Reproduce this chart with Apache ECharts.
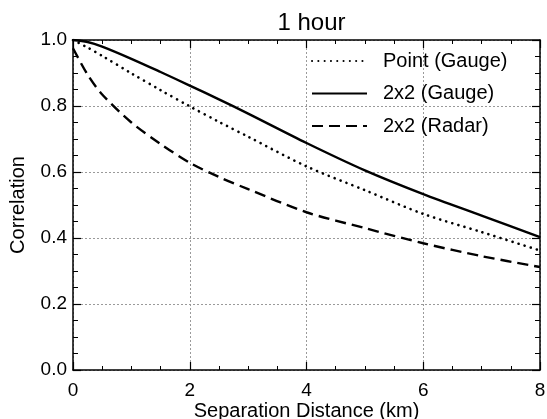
<!DOCTYPE html>
<html>
<head>
<meta charset="utf-8">
<script src="https://cdn.jsdelivr.net/npm/echarts@6/dist/echarts.min.js"></script>
<style>
html,body{margin:0;padding:0;background:#fff;}
#chart{width:547px;height:419px;}
</style>
</head>
<body>
<div id="chart"></div>
<script>
const distanceKm = [0, 0.25, 0.5, 1, 1.5, 2, 2.5, 3, 4, 5, 6, 7, 8];
const pointGauge = [1.0, 0.977, 0.952, 0.899, 0.848, 0.799, 0.752, 0.707, 0.617, 0.545, 0.473, 0.418, 0.362];
const gauge2x2   = [1.0, 0.994, 0.98, 0.943, 0.903, 0.862, 0.82, 0.777, 0.688, 0.605, 0.533, 0.468, 0.403];
const radar2x2   = [0.975, 0.895, 0.835, 0.75, 0.685, 0.628, 0.585, 0.548, 0.478, 0.43, 0.384, 0.345, 0.312];
const seriesNames = ['Point (Gauge)', '2x2 (Gauge)', '2x2 (Radar)'];
const titleText = '1 hour';
const xName = 'Separation Distance (km)';
const yName = 'Correlation';

const pairs = arr => distanceKm.map((x, i) => [x, arr[i]]);
const font = 'Liberation Sans, Arial, Helvetica, sans-serif';

const chart = echarts.init(document.getElementById('chart'));
const gridLine = {show: true, lineStyle: {color: '#9a9a9a', width: 1, type: [2, 2]}};
const frameLine = {show: true, onZero: false, lineStyle: {color: '#000', width: 1.5}};
chart.setOption({
  animation: false,
  backgroundColor: '#fff',
  title: {
    text: titleText, left: 306.5, top: 6, textAlign: 'center',
    textStyle: {fontFamily: font, fontSize: 24, fontWeight: 'normal', color: '#000'}
  },
  grid: {left: 73, right: 7, top: 40, bottom: 49, containLabel: false, outerBoundsMode: 'none'},
  legend: {
    orient: 'vertical', left: 306, top: 46, itemWidth: 55, itemHeight: 14, itemGap: 12.5,
    data: seriesNames,
    itemStyle: {opacity: 0, color: 'rgba(0,0,0,0)', borderWidth: 0},
    textStyle: {fontFamily: font, fontSize: 20, color: '#000', padding: [0, 0, 0, 11], lineHeight: 20}
  },
  xAxis: [{
    type: 'value', min: 0, max: 8, interval: 2, position: 'bottom',
    name: xName, nameLocation: 'middle', nameGap: 31, nameMoveOverlap: false,
    nameTextStyle: {fontFamily: font, fontSize: 20, color: '#000'},
    axisLine: frameLine,
    axisTick: {show: true, inside: true, length: 8, lineStyle: {color: '#000', width: 1.2}},
    minorTick: {show: true, splitNumber: 4, length: 4, lineStyle: {color: '#000', width: 1}},
    axisLabel: {fontFamily: font, fontSize: 19, color: '#000', margin: 11},
    splitLine: gridLine
  }, {
    type: 'value', min: 0, max: 8, interval: 2, position: 'top',
    axisLine: frameLine,
    axisTick: {show: true, inside: true, length: 8, lineStyle: {color: '#000', width: 1.2}},
    minorTick: {show: true, splitNumber: 4, length: 4, lineStyle: {color: '#000', width: 1}},
    axisLabel: {show: false}, splitLine: {show: false}
  }],
  yAxis: [{
    type: 'value', min: 0, max: 1, interval: 0.2, position: 'left',
    name: yName, nameLocation: 'middle', nameGap: 45, nameMoveOverlap: false,
    nameTextStyle: {fontFamily: font, fontSize: 20, color: '#000'},
    axisLine: frameLine,
    axisTick: {show: true, inside: true, length: 8, lineStyle: {color: '#000', width: 1.2}},
    minorTick: {show: true, splitNumber: 4, length: 5, lineStyle: {color: '#000', width: 1}},
    axisLabel: {fontFamily: font, fontSize: 19, color: '#000', margin: 6, formatter: v => v.toFixed(1)},
    splitLine: gridLine
  }, {
    type: 'value', min: 0, max: 1, interval: 0.2, position: 'right',
    axisLine: frameLine,
    axisTick: {show: true, inside: true, length: 8, lineStyle: {color: '#000', width: 1.2}},
    minorTick: {show: true, splitNumber: 4, length: 5, lineStyle: {color: '#000', width: 1}},
    axisLabel: {show: false}, splitLine: {show: false}
  }],
  series: [{
    name: seriesNames[0], type: 'line', data: pairs(pointGauge), smooth: 0.3,
    symbol: 'none', color: '#000',
    lineStyle: {color: '#000', width: 2.6, type: [0.1, 6.2], cap: 'round'}
  }, {
    name: seriesNames[1], type: 'line', data: pairs(gauge2x2), smooth: 0.3,
    symbol: 'none', color: '#000',
    lineStyle: {color: '#000', width: 2.4, type: 'solid'}
  }, {
    name: seriesNames[2], type: 'line', data: pairs(radar2x2), smooth: 0.3,
    symbol: 'none', color: '#000',
    lineStyle: {color: '#000', width: 2.4, type: [11, 6]}
  }]
});
</script>
</body>
</html>
